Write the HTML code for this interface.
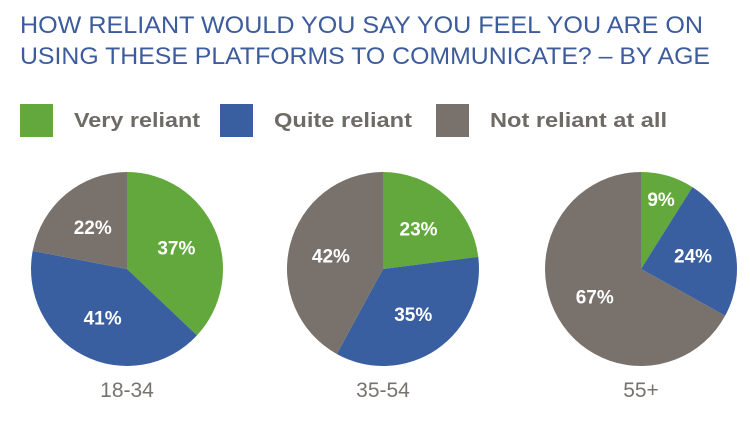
<!DOCTYPE html>
<html><head><meta charset="utf-8"><style>
body{margin:0;background:#fff;}
svg{display:block;font-family:"Liberation Sans",sans-serif;}
</style></head><body>
<svg id="chart" width="750" height="428" viewBox="0 0 750 428">
<g fill="#3d5c9c" font-size="24">
<text x="20" y="33" textLength="683" lengthAdjust="spacingAndGlyphs">HOW RELIANT WOULD YOU SAY YOU FEEL YOU ARE ON</text>
<text x="20" y="64" textLength="690" lengthAdjust="spacingAndGlyphs">USING THESE PLATFORMS TO COMMUNICATE? – BY AGE</text>
</g>
<g font-size="20" font-weight="bold" fill="#6e6a66">
<g><rect x="20" y="104" width="33" height="33" fill="#62a83c"/><text x="74" y="127" textLength="126" lengthAdjust="spacingAndGlyphs">Very reliant</text></g>
<g><rect x="220" y="104" width="33" height="33" fill="#3a5fa0"/><text x="274" y="127" textLength="138" lengthAdjust="spacingAndGlyphs">Quite reliant</text></g>
<g><rect x="436" y="104" width="33" height="33" fill="#79716b"/><text x="490" y="127" textLength="177" lengthAdjust="spacingAndGlyphs">Not reliant at all</text></g>
</g>
<g id="pies"></g>
</svg>
<script>
const groups = ["18-34","35-54","55+"];
const veryReliant = [37,23,9];
const quiteReliant = [41,35,24];
const notReliant = [22,42,67];
const seriesNames = ["very-reliant","quite-reliant","not-reliant"];
const colors = ["#62a83c","#3a5fa0","#79716b"];
const cxs=[127,383,641], cy=269, rx=96, ry=97;
const NS="http://www.w3.org/2000/svg";
const root=document.getElementById('pies');
function pt(cx,a,f){return [cx+rx*f*Math.sin(a), cy-ry*f*Math.cos(a)];}
groups.forEach((g,i)=>{
  const vals=[veryReliant[i],quiteReliant[i],notReliant[i]];
  const tot=vals.reduce((a,b)=>a+b,0);
  const cx=cxs[i];
  const gg=document.createElementNS(NS,'g');
  
  
  root.appendChild(gg);
  let acc=0;
  vals.forEach((v,j)=>{
    const a0=acc/tot*2*Math.PI; acc+=v; const a1=acc/tot*2*Math.PI;
    const p0=pt(cx,a0,1), p1=pt(cx,a1,1);
    const large=(a1-a0)>Math.PI?1:0;
    const path=document.createElementNS(NS,'path');
    path.setAttribute('d',`M${cx},${cy} L${p0[0]},${p0[1]} A${rx},${ry} 0 ${large} 1 ${p1[0]},${p1[1]} Z`);
    path.setAttribute('fill',colors[j]);
    
    
    gg.appendChild(path);
    const mid=(a0+a1)/2, f=(v/tot)<0.15?0.75:0.56;
    const lp=pt(cx,mid,f);
    const t=document.createElementNS(NS,'text');
    t.setAttribute('x',lp[0]); t.setAttribute('y',lp[1]+7);
    t.setAttribute('text-anchor','middle'); t.setAttribute('fill','#fff');
    t.setAttribute('font-size','19'); t.setAttribute('font-weight','bold');
    t.textContent=v+'%';
    
    
    gg.appendChild(t);
  });
  const lab=document.createElementNS(NS,'text');
  lab.setAttribute('x',cx); lab.setAttribute('y',397);
  lab.setAttribute('text-anchor','middle'); lab.setAttribute('fill','#77726e');
  lab.setAttribute('font-size','21');
  lab.textContent=g;
  
  
  gg.appendChild(lab);
});
</script>
</body></html>
